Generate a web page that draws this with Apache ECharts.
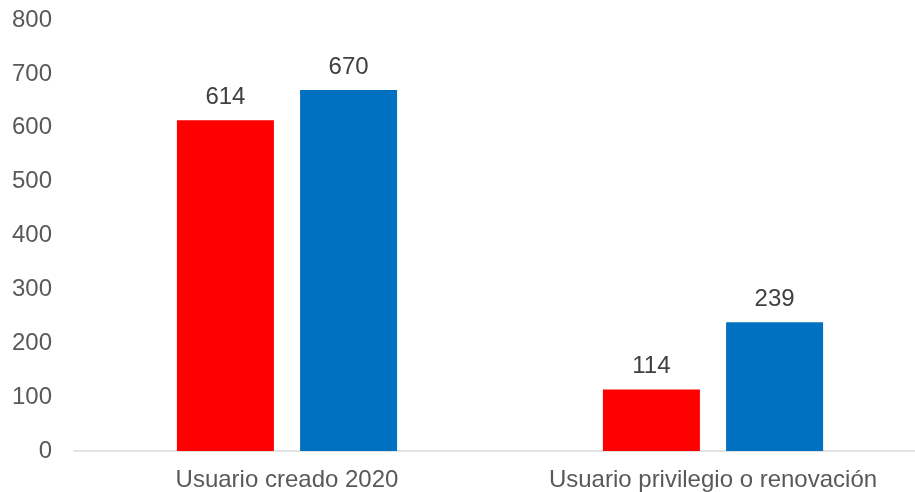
<!DOCTYPE html>
<html>
<head>
<meta charset="utf-8">
<script src="https://cdn.jsdelivr.net/npm/echarts@6/dist/echarts.min.js"></script>
<style>html,body{margin:0;padding:0;background:#fff}#c{width:915px;height:492px}</style>
</head>
<body>
<div id="c"></div>
<script>
var categories = ['Usuario creado 2020', 'Usuario privilegio o renovación'];
var seriesRed = [614, 114];
var seriesBlue = [670, 239];
var yTicks = [0, 100, 200, 300, 400, 500, 600, 700, 800];

var chart = echarts.init(document.getElementById('c'), null, {renderer: 'canvas'});
var font = '"Liberation Sans", Arial, sans-serif';
var fs = 24;
chart.setOption({
  animation: false,
  grid: {left: 74, top: 20, right: -11, bottom: 41, containLabel: false, outerBoundsMode: 'none'},
  xAxis: {
    type: 'category',
    data: categories,
    axisLine: {lineStyle: {color: '#D9D9D9', width: 1.5}},
    axisTick: {show: false},
    axisLabel: {color: '#595959', fontSize: fs, fontFamily: font, margin: 17, interval: 0, hideOverlap: false}
  },
  yAxis: {
    type: 'value',
    min: yTicks[0],
    max: yTicks[yTicks.length - 1],
    interval: 100,
    splitLine: {show: false},
    axisLine: {show: false},
    axisTick: {show: false},
    axisLabel: {color: '#595959', fontSize: fs, fontFamily: font, margin: 22}
  },
  series: [
    {type: 'bar', data: seriesRed, barWidth: 97, barGap: '27%', itemStyle: {color: '#FF0000'},
     label: {show: true, position: 'top', distance: 11, color: '#404040', fontSize: fs, fontFamily: font}},
    {type: 'bar', data: seriesBlue, barWidth: 97, barGap: '27%', itemStyle: {color: '#0070C0'},
     label: {show: true, position: 'top', distance: 11, color: '#404040', fontSize: fs, fontFamily: font}}
  ]
});
</script>
</body>
</html>
